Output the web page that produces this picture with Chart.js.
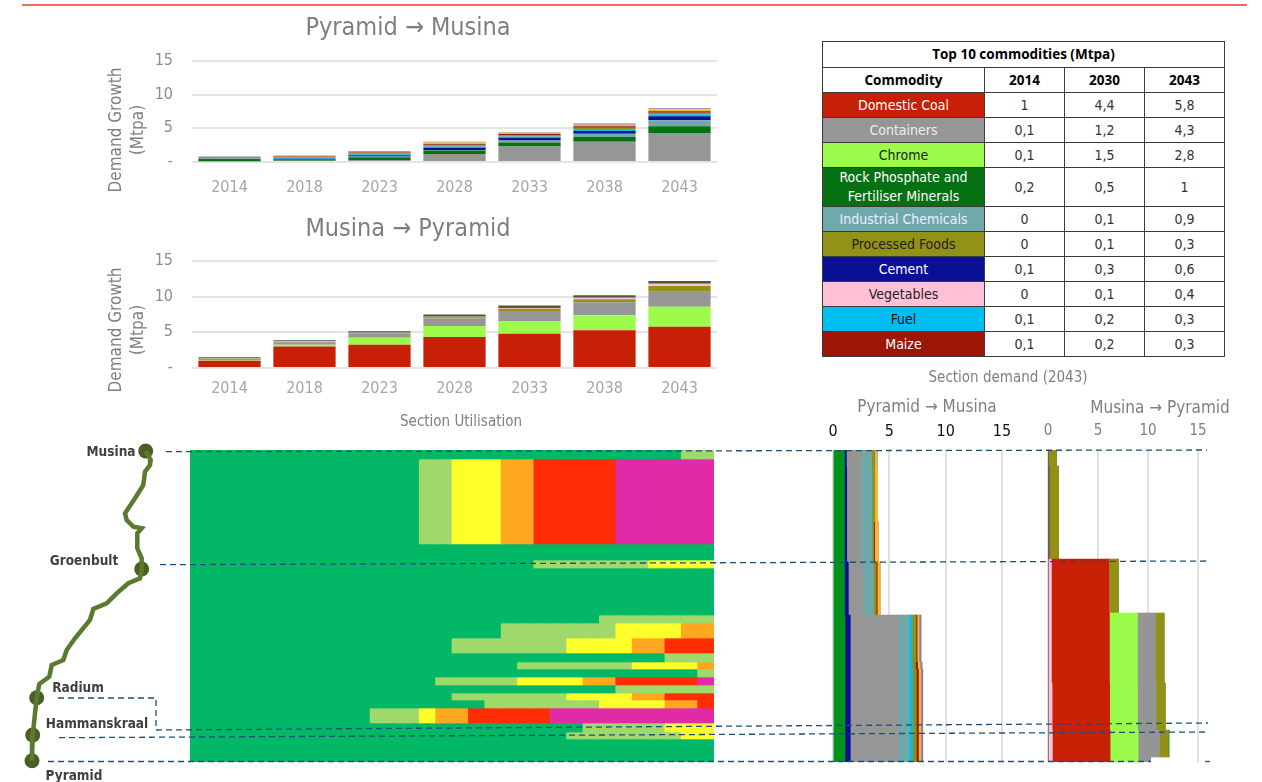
<!DOCTYPE html>
<html>
<head>
<meta charset="utf-8">
<title>Corridor demand and section utilisation</title>
<script src="https://cdn.jsdelivr.net/npm/chart.js@4"></script>
<style>
  html, body { margin: 0; padding: 0; background: #fff; }
  #page { position: relative; width: 1262px; height: 782px; overflow: hidden; font-family: "DejaVu Sans Condensed", "DejaVu Sans", sans-serif; }
  canvas { position: absolute; }
  .caption { position: absolute; transform: translate(-50%, -50%); white-space: nowrap; line-height: 1; }
  #rule { position: absolute; left: 22px; top: 4px; width: 1225px; height: 2px; background: #f4695b; }
  table { position: absolute; left: 822px; top: 41px; width: 402px; height: 315px; border-collapse: collapse; table-layout: fixed; font-size: 14px; color: #333; }
  td, th { border: 1px solid #3a3a3a; padding: 0; text-align: center; line-height: 19px; }
  th { color: #000; font-family: "Open Sans", sans-serif; font-size: 13.5px; }
</style>
</head>
<body>
<div id="page">
  <div id="rule"></div>
  <table id="commodityTable"></table>
  <canvas id="growthUp" width="640" height="160" style="left:100px;top:49px"></canvas>
  <canvas id="growthDown" width="640" height="166" style="left:100px;top:249px"></canvas>
  <canvas id="utilisation" width="524" height="312" style="left:190px;top:450px"></canvas>
  <canvas id="sectionUp" width="209" height="347" style="left:813px;top:415px"></canvas>
  <canvas id="sectionDown" width="190" height="347" style="left:1028px;top:415px"></canvas>
  <canvas id="route" width="1262" height="782" style="left:0;top:0"></canvas>
</div>
<script>
// Commodity table
const commodities = ["Domestic Coal", "Containers", "Chrome", "Rock Phosphate and Fertiliser Minerals", "Industrial Chemicals", "Processed Foods", "Cement", "Vegetables", "Fuel", "Maize"];
const table2014 = ["1", "0,1", "0,1", "0,2", "0", "0", "0,1", "0", "0,1", "0,1"];
const table2030 = ["4,4", "1,2", "1,5", "0,5", "0,1", "0,1", "0,3", "0,1", "0,2", "0,2"];
const table2043 = ["5,8", "4,3", "2,8", "1", "0,9", "0,3", "0,6", "0,4", "0,3", "0,3"];

// Demand growth by year, Pyramid to Musina
const years = ["2014", "2018", "2023", "2028", "2033", "2038", "2043"];
const upContainers = [0.1, 0.2, 0.3, 1.2, 2.3, 3.0, 4.3];
const upRock = [0.2, 0.2, 0.4, 0.5, 0.6, 0.7, 1.0];
const upChemicals = [0, 0, 0.1, 0.1, 0.3, 0.5, 0.9];
const upCement = [0.1, 0.1, 0.2, 0.3, 0.4, 0.4, 0.6];
const upFuel = [0.1, 0.15, 0.15, 0.2, 0.2, 0.3, 0.3];
const upProcessed = [0.05, 0.05, 0.1, 0.15, 0.15, 0.2, 0.2];
const upMaize = [0.1, 0.1, 0.15, 0.2, 0.2, 0.2, 0.25];
const upOther = [0.1, 0.15, 0.1, 0.25, 0.2, 0.25, 0.3];
const upMisc = [0.05, 0.05, 0.1, 0.1, 0.05, 0.15, 0.15];

// Demand growth by year, Musina to Pyramid
const downCoal = [1.0, 3.0, 3.25, 4.35, 4.8, 5.3, 5.8];
const downChrome = [0.1, 0.25, 1.0, 1.55, 1.8, 2.1, 2.8];
const downContainers = [0.2, 0.35, 0.6, 1.05, 1.4, 1.8, 2.1];
const downProcessed = [0.05, 0.05, 0.05, 0.15, 0.3, 0.45, 0.8];
const downVegetables = [0.05, 0.05, 0.05, 0.1, 0.1, 0.2, 0.3];
const downOther = [0.1, 0.2, 0.2, 0.3, 0.35, 0.35, 0.4];

// Section utilisation: each section lists the year step at which it enters a band
const yearSteps = Array.from({ length: 32 }, (_, i) => 2012 + i);
const sectionLengths = [9, 85, 16, 8, 47, 8, 15, 15, 9, 7, 8, 8, 8, 7, 8, 15, 9, 7, 23];
const lightFrom   = [30, 14, null, 21, null, 25, 19, 16, 29, 20, 31, 15, 26, 16, 18, 11, 24, 23, null];
const yellowFrom  = [null, 16, null, 28, null, null, 26, 23, null, 27, null, 20, null, 23, 25, 14, 29, 30, null];
const orangeFrom  = [null, 19, null, null, null, null, 30, 27, null, 31, null, 24, null, 27, 29, 15, null, null, null];
const redFrom     = [null, 21, null, null, null, null, null, 29, null, null, null, 26, null, 29, 31, 17, null, null, null];
const magentaFrom = [null, 26, null, null, null, null, null, null, null, null, null, 31, null, null, null, 22, null, null, null];

// Section demand in 2043, Pyramid to Musina
const upSectionLengths = [17, 55, 40, 53, 47, 7, 93];
const upSecRock = [1, 1, 1, 1, 1.05, 1.05, 1.05];
const upSecCement = [0.18, 0.22, 0.22, 0.35, 0.47, 0.47, 0.47];
const upSecContainers = [1.28, 1.25, 1.25, 1.28, 4.3, 4.3, 4.3];
const upSecChemicals = [0.95, 0.98, 0.98, 0.95, 0.95, 0.95, 0.95];
const upSecFuel = [0, 0, 0, 0, 0.23, 0.23, 0.28];
const upSecProcessed = [0.27, 0.24, 0.15, 0.24, 0.36, 0.3, 0.33];
const upSecMaize = [0, 0, 0.09, 0.09, 0.09, 0.21, 0.2];
const upSecOther = [0.18, 0.27, 0.33, 0.27, 0.18, 0.21, 0.21];
const upSecMisc = [0.06, 0, 0, 0, 0.18, 0.18, 0.18];

// Section demand in 2043, Musina to Pyramid
const downSectionLengths = [16, 93, 54, 47, 23, 47, 27, 5];
const downSecBlack = [0, 0.1, 0, 0, 0, 0, 0, 0];
const downSecVegetables = [0, 0, 0.33, 0.33, 0.33, 0.4, 0.43, 0.43];
const downSecCoal = [0, 0, 5.77, 5.8, 5.8, 5.77, 5.77, 5.77];
const downSecChrome = [0, 0, 0, 2.8, 2.8, 2.77, 2.8, 2.8];
const downSecContainers = [0, 0, 0, 1.8, 1.8, 1.87, 2.13, 1.23];
const downSecProcessed = [0.83, 0.97, 0.93, 0.87, 0.87, 0.9, 0.9, 0];
const downSecRock = [0, 0, 0, 0, 0, 0, 0.07, 0];

// Route map and the section markers that run across the page
const routeX = [145.7, 150.7, 150, 145, 143.3, 136, 125, 126.7, 133.3, 141.7, 137.3, 137.3, 141.7, 141.7, 140, 128.3, 116.7, 106.7, 93.3, 90, 75, 66.7, 63.3, 51.7, 49.3, 39.3, 36.7, 32.7, 32];
const routeY = [451, 460, 465, 471.7, 485, 496.7, 513.3, 520, 526.7, 528.3, 533.3, 548.3, 558.3, 569, 578.3, 583.3, 593.3, 603.3, 609, 620, 638.3, 650, 660, 665, 676.7, 684, 697.7, 735, 760.7];
const stationNames = ["Musina", "Groenbult", "Radium", "Hammanskraal", "Pyramid"];
const stationX = [145.7, 141.7, 36.7, 32.7, 32];
const stationY = [451, 569, 697.7, 735, 760.7];
const stationLabelX = [111, 84, 78, 97, 74];
const stationLabelY = [452, 561, 688, 724, 776];
const markerMusinaX = [166, 1207], markerMusinaY = [451.7, 450];
const markerGroenbultX = [160, 1210], markerGroenbultY = [564.7, 561];
const markerRadiumX = [58, 156, 156, 1208], markerRadiumY = [698, 698, 730, 723];
const markerHammanskraalX = [59, 1205], markerHammanskraalY = [737.7, 732];
const markerPyramidX = [48, 1151], markerPyramidY = [761.5, 761.5];
const markerPyramidEndX = [1205, 1210], markerPyramidEndY = [761.5, 761.5];

const colors = {
  coal: "#c72006", containers: "#969696", chrome: "#9cfb4b", rock: "#067113", sectionRock: "#04921c",
  chemicals: "#6fa9ab", processed: "#929118", cement: "#0a0f93", vegetables: "#ffc0d8", fuel: "#00bdf2",
  maize: "#9c1505", other: "#fbb72e", misc: "#7f7fb0", darkTop: "#4d5a3a", black: "#111111",
  bands: ["#02b866", "#a0d96b", "#ffff2b", "#ffa81f", "#ff2d05", "#e02aa6"]
};
const FONT = '"DejaVu Sans Condensed", "DejaVu Sans", sans-serif';
Chart.defaults.font.family = FONT;
Chart.defaults.animation = false;
Chart.defaults.responsive = false;
Chart.defaults.plugins.legend.display = false;
Chart.defaults.plugins.tooltip.enabled = false;

const page = document.getElementById("page");
function caption(text, x, y, size, color, weight, rotated) {
  const el = document.createElement("div");
  el.className = "caption";
  el.textContent = text;
  el.style.cssText = `left:${x}px;top:${y}px;font-size:${size}px;color:${color};font-weight:${weight || "normal"}`;
  if (rotated) el.style.transform = "translate(-50%, -50%) rotate(-90deg)";
  page.appendChild(el);
}

caption("Pyramid → Musina", 408, 26, 25, "#7f7f7f");
caption("Musina → Pyramid", 408, 227, 25, "#7f7f7f");
caption("Demand Growth", 115, 130, 17, "#7f7f7f", "normal", true);
caption("(Mtpa)", 137, 130, 17, "#7f7f7f", "normal", true);
caption("Demand Growth", 115, 330, 17, "#7f7f7f", "normal", true);
caption("(Mtpa)", 137, 330, 17, "#7f7f7f", "normal", true);
caption("Section Utilisation", 461, 421, 15, "#7f7f7f");
caption("Section demand (2043)", 1008, 377, 15, "#7f7f7f");
caption("Pyramid → Musina", 927, 406, 17, "#7f7f7f");
caption("Musina → Pyramid", 1160, 407, 17, "#7f7f7f");
stationNames.forEach((n, i) => caption(n, stationLabelX[i], stationLabelY[i], 13.5, "#404040", "bold"));

// Table rows
const rowFills = [colors.coal, colors.containers, colors.chrome, colors.rock, colors.chemicals, colors.processed, colors.cement, colors.vegetables, colors.fuel, colors.maize];
const rowInks = ["#fff", "#eee", "#222", "#fff", "#eef", "#222", "#fff", "#222", "#111", "#fff"];
const rowHeights = [25, 25, 25, 39, 25, 25, 25, 25, 25, 25];
let html = '<colgroup><col style="width:162px"><col style="width:80px"><col style="width:80px"><col style="width:80px"></colgroup>';
html += '<tr style="height:26px"><th colspan="4">Top 10 commodities (Mtpa)</th></tr>';
html += '<tr style="height:25px"><th>Commodity</th><th>2014</th><th>2030</th><th>2043</th></tr>';
commodities.forEach((c, i) => {
  html += `<tr style="height:${rowHeights[i]}px"><td style="background:${rowFills[i]};color:${rowInks[i]}">${c}</td><td>${table2014[i]}</td><td>${table2030[i]}</td><td>${table2043[i]}</td></tr>`;
});
document.getElementById("commodityTable").innerHTML = html;

// Stacked bars of demand growth
function growthChart(id, series, labelGap) {
  const stack = series.map(([data, color]) => ({ data, backgroundColor: color, borderWidth: 0, barPercentage: 0.83, categoryPercentage: 1 }));
  new Chart(document.getElementById(id), {
    type: "bar",
    data: { labels: years, datasets: stack },
    options: {
      layout: { padding: { top: 12, right: 23, left: 0, bottom: 0 } },
      scales: {
        x: {
          stacked: true,
          grid: { display: false },
          border: { display: false },
          ticks: { color: "#a6a6a6", font: { size: 16 }, padding: labelGap },
          afterFit: s => { s.height = 47; }
        },
        y: {
          stacked: true, min: 0, max: 15,
          grid: { color: "#e4e4e4", lineWidth: 2, drawTicks: false },
          border: { display: false },
          ticks: { stepSize: 5, color: "#8c8c8c", font: { size: 16 }, padding: 19, callback: v => (v === 0 ? "-" : v) },
          afterFit: s => { s.width = 92; s.paddingTop = 0; s.paddingBottom = 0; }
        }
      }
    }
  });
}
growthChart("growthUp", [
  [upContainers, colors.containers], [upRock, colors.rock], [upChemicals, colors.chemicals], [upCement, colors.cement],
  [upFuel, colors.fuel], [upProcessed, colors.processed], [upMaize, colors.maize], [upOther, colors.other], [upMisc, colors.misc]
], 8);
growthChart("growthDown", [
  [downCoal, colors.coal], [downChrome, colors.chrome], [downContainers, colors.containers],
  [downProcessed, colors.processed], [downVegetables, colors.vegetables], [downOther, colors.darkTop]
], 3);

// Utilisation grid: vertical stacks, one per year step, one segment per section
function bandFor(section, step) {
  let band = 0;
  [lightFrom, yellowFrom, orangeFrom, redFrom, magentaFrom].forEach((from, b) => {
    if (from[section] !== null && step >= from[section]) band = b + 1;
  });
  return colors.bands[band];
}
const gridBase = {
  id: "gridBase",
  beforeDatasetsDraw(chart) {
    const { ctx, chartArea: a } = chart;
    ctx.save();
    ctx.fillStyle = colors.bands[0];
    ctx.fillRect(a.left, a.top, a.right - a.left, a.bottom - a.top);
    ctx.restore();
  }
};
new Chart(document.getElementById("utilisation"), {
  type: "bar",
  plugins: [gridBase],
  data: {
    labels: yearSteps,
    datasets: sectionLengths.map((len, section) => ({
      data: yearSteps.map(() => len),
      backgroundColor: ctx => bandFor(section, ctx.dataIndex),
      borderWidth: 0, barPercentage: 1, categoryPercentage: 1
    }))
  },
  options: {
    scales: {
      x: { display: false, stacked: true },
      y: { display: false, stacked: true, min: 0, max: 312, reverse: true }
    }
  }
});

// Horizontal stacks along the route; a section takes as many rows as it is long
const expand = (values, lengths) => values.flatMap((v, i) => Array(lengths[i]).fill(v));
function sectionChart(id, lengths, series, tickColor, tickSize, labelGap) {
  const rows = expand(lengths.map((_, i) => i), lengths);
  new Chart(document.getElementById(id), {
    type: "bar",
    data: {
      labels: rows.map((_, i) => i),
      datasets: series.map(([values, color]) => ({
        data: expand(values, lengths), backgroundColor: color, borderWidth: 0, barPercentage: 1, categoryPercentage: 1
      }))
    },
    options: {
      indexAxis: "y",
      layout: { padding: { left: 20, right: 20, top: 0, bottom: 0 } },
      scales: {
        x: {
          position: "top", stacked: true, min: 0, max: 15,
          grid: { color: "#e0e0e0", lineWidth: 2, drawTicks: false },
          border: { display: false },
          ticks: { stepSize: 5, color: tickColor, font: { size: tickSize }, padding: labelGap, maxRotation: 0 },
          afterFit: s => { s.height = 35; }
        },
        y: { display: false, stacked: true }
      }
    }
  });
}
sectionChart("sectionUp", upSectionLengths, [
  [upSecRock, colors.sectionRock], [upSecCement, colors.cement], [upSecContainers, colors.containers], [upSecChemicals, colors.chemicals],
  [upSecFuel, colors.fuel], [upSecProcessed, colors.processed], [upSecMaize, colors.maize], [upSecOther, colors.other], [upSecMisc, colors.misc]
], "#111", 16, 9);
sectionChart("sectionDown", downSectionLengths, [
  [downSecBlack, colors.black], [downSecVegetables, colors.vegetables], [downSecCoal, colors.coal], [downSecChrome, colors.chrome],
  [downSecContainers, colors.containers], [downSecProcessed, colors.processed], [downSecRock, colors.sectionRock]
], "#808080", 15, 10);

// Route line, stations and dashed markers on a page-sized overlay
const pairs = (xs, ys) => xs.map((x, i) => ({ x, y: ys[i] }));
const marker = (xs, ys) => ({
  data: pairs(xs, ys), showLine: true, pointRadius: 0, borderColor: "#1f4e79", borderWidth: 1.3, borderDash: [6, 4], tension: 0
});
new Chart(document.getElementById("route"), {
  type: "scatter",
  data: {
    datasets: [
      marker(markerMusinaX, markerMusinaY),
      marker(markerGroenbultX, markerGroenbultY),
      marker(markerRadiumX, markerRadiumY),
      marker(markerHammanskraalX, markerHammanskraalY),
      marker(markerPyramidX, markerPyramidY),
      marker(markerPyramidEndX, markerPyramidEndY),
      { data: pairs(routeX, routeY), showLine: true, pointRadius: 0, borderColor: "#5a7a30", borderWidth: 4.5, tension: 0 },
      { data: pairs(stationX, stationY), showLine: false, pointRadius: 7.5, backgroundColor: "#4a5f25", borderWidth: 0 }
    ]
  },
  options: {
    events: [],
    layout: { autoPadding: false },
    scales: {
      x: { type: "linear", display: false, min: 0, max: 1262 },
      y: { type: "linear", display: false, min: 0, max: 782, reverse: true }
    }
  }
});
</script>
</body>
</html>
